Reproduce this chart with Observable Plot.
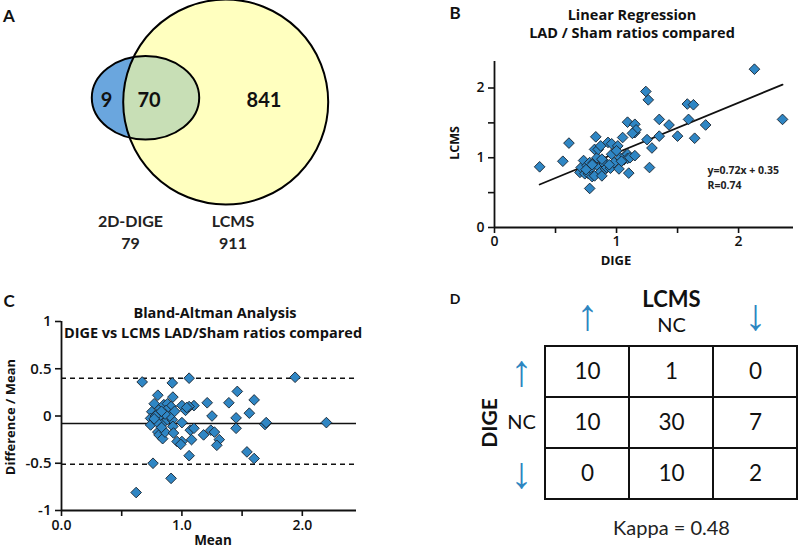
<!DOCTYPE html>
<html>
<head>
<meta charset="utf-8">
<script src="https://cdn.jsdelivr.net/npm/d3@7"></script>
<script src="https://cdn.jsdelivr.net/npm/@observablehq/plot@0.6"></script>
<style>
  html, body { margin: 0; padding: 0; background: #fff; }
  #fig { position: relative; width: 800px; height: 549px; overflow: hidden; background: #fff; font-family: Lato, "Open Sans", sans-serif; }
  #fig svg { position: absolute; overflow: visible; }
  .lbl { position: absolute; white-space: nowrap; transform: translate(-50%, -50%); color: #111; line-height: 1; }
</style>
</head>
<body>
<div id="fig"></div>
<script>
// ---------------- DATA ----------------
// Panel A: Venn diagram
const vennSetNames = ["2D-DIGE", "LCMS"];
const vennSetTotals = [79, 911];
const vennRegionNames = ["2D-DIGE only", "Both", "LCMS only"];
const vennRegionCounts = [9, 70, 841];

// Panel B: LAD/Sham ratios, DIGE vs LCMS
const digeRatio = [0.37,0.56,0.61,0.78,0.70,0.71,0.73,0.74,0.76,0.77,0.78,0.79,0.80,0.81,0.82,0.83,0.82,0.84,0.85,0.86,
  0.87,0.87,0.88,0.89,0.90,0.91,0.92,0.93,0.95,0.96,0.96,0.98,1.01,1.02,1.03,1.05,1.06,1.07,1.09,1.09,
  1.10,1.09,1.11,1.15,1.15,1.16,1.15,1.13,1.24,1.26,1.25,1.29,1.27,1.35,1.35,1.43,1.50,1.58,1.63,1.59,
  1.64,1.73,2.13,2.36,0.75,0.88,0.94,1.00,0.80,1.04];
const lcmsRatio = [0.87,0.95,1.21,0.56,0.79,0.86,0.96,0.77,0.89,0.77,0.93,0.85,0.73,0.93,1.12,1.30,0.74,1.00,1.12,0.86,
  1.17,0.80,0.74,0.96,0.91,0.84,0.86,1.22,0.85,1.20,1.05,0.93,1.17,0.84,1.00,1.29,0.97,1.03,1.05,0.99,
  0.78,1.51,1.00,1.48,1.36,1.40,1.03,1.35,1.95,1.83,1.26,1.14,0.86,1.31,1.55,1.47,1.31,1.77,1.76,1.55,
  1.28,1.47,2.27,1.55,0.83,0.98,0.90,1.10,0.90,0.95];
const regSlope = 0.72, regIntercept = 0.35, regR = 0.74;

// Panel C: Bland-Altman
const baMean = [0.67,0.92,1.06,1.94,0.62,0.76,0.91,2.20,1.69,1.70,1.60,1.56,1.54,1.60,1.46,1.39,1.45,1.45,1.21,1.25,
  1.18,1.24,1.27,1.31,1.29,1.06,1.10,1.07,1.10,1.08,1.00,0.96,0.99,1.00,1.00,1.03,1.06,0.80,0.925,0.77,
  0.75,0.74,0.74,0.80,0.82,0.85,0.88,0.91,0.89,0.85,0.82,0.84,0.88,0.92,0.80,0.81,0.84,0.86,0.925,0.93,
  0.78,0.87,0.83,0.90,0.79,0.86,0.94,0.83,0.77,1.04];
const baDiff = [0.36,0.35,0.40,0.41,-0.81,-0.50,-0.66,-0.07,-0.09,-0.07,0.17,0.03,-0.38,-0.45,0.26,0.14,-0.02,-0.13,0.14,0.00,
  -0.20,-0.15,-0.17,-0.25,-0.31,-0.42,0.11,-0.15,-0.13,-0.25,-0.27,-0.27,-0.30,-0.07,0.11,0.06,0.10,0.22,0.20,0.13,
  0.045,-0.025,-0.095,0.03,0.08,0.12,0.13,0.10,0.03,-0.01,-0.04,-0.08,-0.04,-0.04,-0.17,-0.20,-0.24,-0.17,-0.11,-0.18,
  0.00,0.06,-0.12,0.00,-0.06,0.02,0.05,0.05,-0.03,0.09];
const baBias = -0.08, baUpper = 0.40, baLower = -0.51;

// Panel D: agreement table
const lcmsLevels = ["\u2191", "NC", "\u2193"];
const digeLevels = ["\u2191", "NC", "\u2193"];
const agreementCounts = [[10, 1, 0], [10, 30, 7], [0, 10, 2]];
const kappa = 0.48;

// ---------------- STYLE / LAYOUT ----------------
const FONT = "Lato, 'Open Sans', sans-serif";
const TICK_FONT = "'Open Sans', Lato, sans-serif";
const ARROW_FONT = "'Liberation Sans', Arial, sans-serif";
const DOT_FILL = "#2f86c4", DOT_STROKE = "#18222e", ARROW_BLUE = "#2e86c1";
const fig = document.getElementById("fig");

function place(el, left, top) { el.style.left = left + "px"; el.style.top = top + "px"; fig.appendChild(el); }
function label(text, x, y, size, weight, rotate, family) {
  const d = document.createElement("div");
  d.className = "lbl";
  d.textContent = text;
  d.style.left = x + "px"; d.style.top = y + "px";
  d.style.fontSize = size + "px"; d.style.fontWeight = weight;
  if (family) d.style.fontFamily = family;
  if (rotate) d.style.transform = "translate(-50%, -50%) rotate(" + rotate + "deg)";
  fig.appendChild(d);
}

// ---------------- PANEL A ----------------
const vennGeom = { dige: {cx: 145.5, cy: 97.7, rx: 53.7, ry: 41.7}, lcms: {cx: 225.7, cy: 102, r: 102.5} };
const vennRegionPos = [[106, 100], [148.5, 100], [263.5, 100]];
const vennSetPos = [[130, 221], [232.5, 221]];
function vennShapes(index, scales) {
  const {x, y} = scales;
  const g = d3.create("svg:g");
  const e = vennGeom.dige, c = vennGeom.lcms;
  const ex = x(e.cx), ey = y(e.cy), erx = x(e.cx + e.rx) - ex, ery = y(e.cy + e.ry) - ey;
  const cx = x(c.cx), cy = y(c.cy), cr = x(c.cx + c.r) - cx;
  g.append("clipPath").attr("id", "vennClip").append("circle").attr("cx", cx).attr("cy", cy).attr("r", cr);
  g.append("circle").attr("cx", cx).attr("cy", cy).attr("r", cr).attr("fill", "#ffffbf");
  g.append("ellipse").attr("cx", ex).attr("cy", ey).attr("rx", erx).attr("ry", ery).attr("fill", "#6aa6de");
  g.append("ellipse").attr("cx", ex).attr("cy", ey).attr("rx", erx).attr("ry", ery).attr("fill", "#c8dfb6").attr("clip-path", "url(#vennClip)");
  g.append("circle").attr("cx", cx).attr("cy", cy).attr("r", cr).attr("fill", "none").attr("stroke", "#000").attr("stroke-width", 2);
  g.append("ellipse").attr("cx", ex).attr("cy", ey).attr("rx", erx).attr("ry", ery).attr("fill", "none").attr("stroke", "#000").attr("stroke-width", 2);
  return g.node();
}
const regionData = vennRegionCounts.map((n, i) => ({name: vennRegionNames[i], n, px: vennRegionPos[i][0], py: vennRegionPos[i][1]}));
const setData = vennSetNames.map((s, i) => ({name: s, total: vennSetTotals[i], px: vennSetPos[i][0], py: vennSetPos[i][1]}));
const plotA = Plot.plot({
  width: 400, height: 270, margin: 0,
  x: {domain: [0, 400], range: [0, 400], axis: null},
  y: {domain: [0, 270], range: [0, 270], axis: null},
  style: {fontFamily: FONT, background: "transparent", overflow: "visible"},
  marks: [
    vennShapes,
    Plot.text(regionData, {x: "px", y: "py", text: d => String(d.n), fontSize: 20, fontWeight: "bold", fill: "#111"}),
    Plot.text(setData, {x: "px", y: "py", text: "name", fontSize: 16, fontWeight: "bold", fill: "#222"}),
    Plot.text(setData, {x: "px", y: "py", dy: 22, text: d => String(d.total), fontSize: 16, fontWeight: "bold", fill: "#222"})
  ]
});
place(plotA, 0, 0);

// ---------------- PANEL B ----------------
const scatter = digeRatio.map((d, i) => ({dige: d, lcms: lcmsRatio[i]}));
const xExt = d3.extent(digeRatio);
const regLine = xExt.map(v => ({x: v, y: regSlope * v + regIntercept}));
const halfFmt = d => Number.isInteger(d) ? String(d) : "";
const plotB = Plot.plot({
  width: 400, height: 270,
  marginLeft: 94, marginRight: 7, marginTop: 61, marginBottom: 43,
  x: {domain: [0, 2.45]},
  y: {domain: [0, 2.38]},
  style: {fontFamily: TICK_FONT, fontSize: "14px", fontWeight: 600, background: "transparent", color: "#111"},
  marks: [
    Plot.axisX({ticks: [0, 0.5, 1, 1.5, 2], tickFormat: halfFmt, tickSize: 6, tickPadding: 3, strokeWidth: 1.6, label: null}),
    Plot.axisY({ticks: [0, 0.5, 1, 1.5, 2], tickFormat: halfFmt, tickSize: 6, tickPadding: 4, strokeWidth: 1.6, label: null}),
    Plot.ruleX([0], {strokeWidth: 1.8}),
    Plot.ruleY([0], {strokeWidth: 1.8}),
    Plot.line(regLine, {x: "x", y: "y", strokeWidth: 1.8, stroke: "#111"}),
    Plot.dot(scatter, {x: "dige", y: "lcms", symbol: "diamond2", r: 4.8, fill: DOT_FILL, stroke: DOT_STROKE, strokeWidth: 0.9}),
    Plot.text([`y=${regSlope}x + ${regIntercept}`, `R=${regR}`], {x: 1.745, y: (d, i) => i === 0 ? 0.815 : 0.6, text: d => d, textAnchor: "start", fontSize: 10.5, fontWeight: "bold", fill: "#222"})
  ]
});
place(plotB, 400, 0);

// ---------------- PANEL C ----------------
const ba = baMean.map((m, i) => ({mean: m, diff: baDiff[i]}));
const plotC = Plot.plot({
  width: 400, height: 279,
  marginLeft: 61, marginRight: 44, marginTop: 51, marginBottom: 39,
  x: {domain: [0, 2.45]},
  y: {domain: [-1, 1]},
  style: {fontFamily: TICK_FONT, fontSize: "14px", fontWeight: 600, background: "transparent", color: "#111"},
  marks: [
    Plot.axisX({ticks: [0, 0.5, 1, 1.5, 2], tickFormat: d => Number.isInteger(d) ? d.toFixed(1) : "", tickSize: 6, tickPadding: 4, strokeWidth: 1.6, label: null}),
    Plot.axisY({ticks: [-1, -0.5, 0, 0.5, 1], tickFormat: d => String(d), tickSize: 6, tickPadding: 4, strokeWidth: 1.6, label: null, fontSize: 15}),
    Plot.ruleX([0], {strokeWidth: 1.8}),
    Plot.ruleY([-1], {strokeWidth: 1.8}),
    Plot.ruleY([baBias], {strokeWidth: 1.5, stroke: "#111"}),
    Plot.ruleY([baUpper, baLower], {strokeWidth: 1.4, stroke: "#111", strokeDasharray: "5,4"}),
    Plot.dot(ba, {x: "mean", y: "diff", symbol: "diamond2", r: 4.8, fill: DOT_FILL, stroke: DOT_STROKE, strokeWidth: 0.9})
  ]
});
place(plotC, 0, 270);

// ---------------- PANEL D ----------------
const cells = [];
digeLevels.forEach((r, i) => lcmsLevels.forEach((c, j) => cells.push({dige: r, lcms: c, n: agreementCounts[i][j]})));
const mid = {textAnchor: "middle", lineAnchor: "middle"};
const plotD = Plot.plot({
  width: 400, height: 279,
  marginLeft: 144, marginRight: 2, marginTop: 75, marginBottom: 50,
  x: {domain: lcmsLevels, padding: 0, axis: null},
  y: {domain: digeLevels, padding: 0, axis: null},
  style: {fontFamily: FONT, background: "transparent", color: "#111"},
  marks: [
    Plot.cell(cells, {x: "lcms", y: "dige", fill: "white", stroke: "#111", strokeWidth: 2}),
    Plot.text(cells, {x: "lcms", y: "dige", text: d => String(d.n), fontSize: 22.5, fill: "#111"}),
    Plot.text(lcmsLevels.filter(d => d !== "NC"), {...mid, x: d => d, frameAnchor: "top", dy: -30, text: d => d, fontSize: 44, fill: ARROW_BLUE, fontFamily: ARROW_FONT}),
    Plot.text(["NC"], {...mid, x: d => d, frameAnchor: "top", dy: -20, text: d => d, fontSize: 20, fill: "#111"}),
    Plot.text(["LCMS"], {...mid, x: () => lcmsLevels[1], frameAnchor: "top", dy: -46, text: d => d, fontSize: 22, fontWeight: "bold", fill: "#111"}),
    Plot.text(digeLevels.filter(d => d !== "NC"), {...mid, y: d => d, frameAnchor: "left", dx: -23, text: d => d, fontSize: 44, fill: ARROW_BLUE, fontFamily: ARROW_FONT}),
    Plot.text(["NC"], {...mid, y: d => d, frameAnchor: "left", dx: -23, text: d => d, fontSize: 20, fill: "#111"}),
    Plot.text(["DIGE"], {...mid, y: () => digeLevels[1], frameAnchor: "left", dx: -54, rotate: -90, text: d => d, fontSize: 21, fontWeight: "bold", fill: "#111"}),
    Plot.text([`Kappa = ${kappa}`], {...mid, frameAnchor: "bottom", dy: 29, text: d => d, fontSize: 20, fill: "#222"})
  ]
});
place(plotD, 400, 270);

// ---------------- TITLES / LABELS ----------------
const TITLE_FONT = "'Open Sans', Lato, sans-serif";
label("A", 9, 15, 17, "bold");
label("B", 455, 12, 17, "bold");
label("C", 9, 300, 17, "bold");
label("D", 455, 299, 14, "bold");
label("Linear Regression", 632, 15, 14.5, "bold", 0, TITLE_FONT);
label("LAD / Sham ratios compared", 632, 33, 14.5, "bold", 0, TITLE_FONT);
label("LCMS", 455, 143, 12.5, "bold", -90, TITLE_FONT);
label("DIGE", 616, 260, 13, "bold", 0, TITLE_FONT);
label("Bland-Altman Analysis", 215, 313, 14.5, "bold", 0, TITLE_FONT);
label("DIGE vs LCMS LAD/Sham ratios compared", 213, 333, 14.5, "bold", 0, TITLE_FONT);
label("Difference / Mean", 10, 417, 13, "bold", -90, TITLE_FONT);
label("Mean", 213, 541, 13.5, "bold", 0, TITLE_FONT);
</script>
</body>
</html>
